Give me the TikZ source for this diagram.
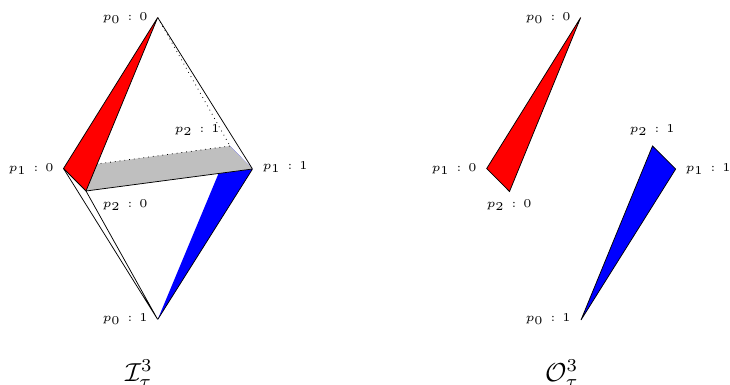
\documentclass[tikz,border=0pt]{standalone}
\usepackage{amsmath}
\usetikzlibrary{positioning}
\tikzset{
  vtx/.style={inner sep=0pt,minimum size=0pt},
  plabel/.style={inner sep=0pt,font=\tiny,scale=2.4},
  bigname/.style={inner sep=0pt,font=\fontsize{10}{12}\selectfont,scale=2.6,anchor=base},
  edge/.style={draw=black,line width=0.75pt,line join=miter},
  hidden/.style={black,line width=0.8pt,dash pattern=on 0.8pt off 4pt}
}
\newcommand{\plab}[2]{$p_{#1}\mkern2mu:\mkern2mu#2$}

\begin{document}
\begin{tikzpicture}[x=1pt,y=-1pt]
  \useasboundingbox (0,0) rectangle (730,385);
  % left figure
  \foreach \x/\y/\n in {157.7/17.5/a,63.5/168.5/b,86/191/c,252.5/169/d,230/146/e,157.7/319.5/f}
    \node[vtx] (\n) at (\x,\y) {};
  \fill[blue] (f.center)--(d.center)--(e.center)--cycle;
  \fill[black!25] (b.center)--(c.center)--(d.center)--(e.center)--cycle;
  \draw[hidden] (a)--(e) (e)--(b);
  \fill[red] (a.center)--(b.center)--(c.center)--cycle;
  \draw[edge] (a.center)--(b.center)--(c.center)--cycle;
  \draw[edge] (a)--(d) (d)--(f) (c)--(d) (b)--(f) (c)--(f);
  % right figure
  \foreach \x/\y/\n in {580.7/17.5/g,486.7/168.5/h,509.5/191.5/i,675.7/169/j,652.5/146/k,581/320/l}
    \node[vtx] (\n) at (\x,\y) {};
  \draw[edge,fill=red] (g.center)--(h.center)--(i.center)--cycle;
  \draw[edge,fill=blue] (l.center)--(j.center)--(k.center)--cycle;
  % labels
  \foreach \x/\y/\p/\v/\n in {125/18/0/0/la,31/169/1/0/lb,125/205/2/0/lc,285/167/1/1/ld,197/130/2/1/le,125/319/0/1/lf,
    548/18/0/0/lg,454/169/1/0/lh,509/205/2/0/li,708/169/1/1/lj,652/130/2/1/lk,548/319/0/1/ll}
    \node[plabel] (\n) at (\x,\y) {\plab{\p}{\v}};
  \node[bigname] (inname) at (139,381) {$\mathcal{I}_\tau^3$};
  \node[bigname] (outname) at (562,381) {$\mathcal{O}_\tau^3$};
\end{tikzpicture}
\end{document}
